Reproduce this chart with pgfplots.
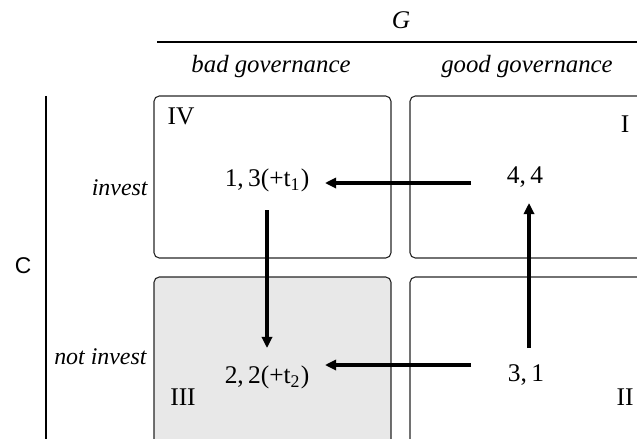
\documentclass[border=0pt]{standalone}
\usepackage{pgfplots}
\pgfplotsset{compat=1.18}
\usetikzlibrary{arrows.meta}
\usepackage{fontspec}
\setmainfont{Liberation Serif}
\newfontfamily\sansfont{Liberation Sans}

% one unit = one pixel of the 637x439 reference
\pgfplotstableread{
x y
637 96
410 96
410 258
637 258
}\boxI
\pgfplotstableread{
x y
637 277
410 277
410 439
}\boxII
\pgfplotstableread{
x y
154 439
154 277
391 277
391 439
}\boxIII
\pgfplotstableread{
x y
272 96
391 96
391 258
154 258
154 96
272 96
}\boxIV

\newcommand{\hd}{\fontsize{11.2}{13}\selectfont\itshape}
\newcommand{\rl}{\fontsize{10.8}{13}\selectfont\itshape}
\newcommand{\cl}{\fontsize{11.5}{13.8}\selectfont}

\begin{document}
\begin{tikzpicture}
\begin{axis}[
    name=ax,
    width=286.65bp,
    height=197.55bp,
    scale only axis,
    xmin=0, xmax=637,
    ymin=0, ymax=439,
    y dir=reverse,
    hide axis,
    clip=false,
    every axis plot/.append style={sharp plot, no markers},
]
% cells
\addplot[draw=black!85, line width=0.5pt, rounded corners=2.4pt] table {\boxI};
\addplot[draw=black!85, line width=0.5pt, rounded corners=2.4pt] table {\boxII};
\addplot[draw=black!85, fill=black!9, line width=0.5pt, rounded corners=2.4pt] table {\boxIII};
\addplot[draw=black!85, line width=0.5pt, rounded corners=2.4pt] table {\boxIV};
% frame lines
\addplot[black, line width=0.9pt] coordinates {(157,42) (637,42)};
\addplot[black, line width=0.9pt] coordinates {(46,96) (46,439)};
% arrows
\addplot[black, line width=1.5pt, -{Triangle[length=5pt,width=4.6pt]}] coordinates {(471,183) (325,183)};
\addplot[black, line width=1.5pt, -{Triangle[length=5pt,width=4.6pt]}] coordinates {(471,365) (325,365)};
\addplot[black, line width=1.5pt, -{Triangle[length=5pt,width=4.6pt]}] coordinates {(267,210) (267,348)};
\addplot[black, line width=1.5pt, -{Triangle[length=5pt,width=4.6pt]}] coordinates {(529,348) (529,203)};
% labels
\node[font=\cl\itshape] at (axis cs:401,20) {G};
\node[font=\hd] at (axis cs:271,67) {bad governance};
\node[font=\hd] at (axis cs:527,67) {good governance};
\node[font=\rl, anchor=east, inner sep=0pt] at (axis cs:148,188) {invest};
\node[font=\rl, anchor=east, inner sep=0pt] at (axis cs:147,357) {not invest};
\node[font=\sansfont\fontsize{10.3}{12}\selectfont] at (axis cs:23,266) {C};
\node[font=\cl] at (axis cs:181,116) {IV};
\node[font=\cl] at (axis cs:625,124) {I};
\node[font=\cl] at (axis cs:183,397) {III};
\node[font=\cl] at (axis cs:625,397) {II};
\node[font=\cl] at (axis cs:267,180) {1,\,3(+t\textsubscript{1})};
\node[font=\cl] at (axis cs:525,177) {4,\,4};
\node[font=\cl] at (axis cs:267,377) {2,\,2(+t\textsubscript{2})};
\node[font=\cl] at (axis cs:526,375) {3,\,1};
\end{axis}
\pgfresetboundingbox
\path (ax.south west) rectangle (ax.north east);
\end{tikzpicture}
\end{document}
